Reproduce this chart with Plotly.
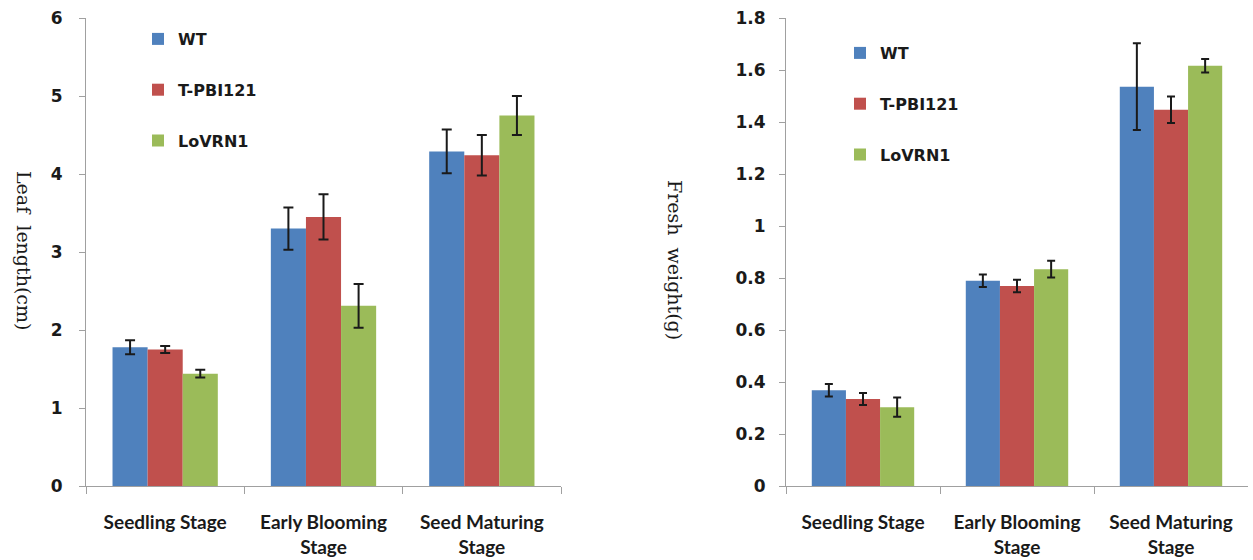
import plotly.graph_objects as go

categories = ["Seedling Stage", "Early Blooming<br>Stage", "Seed Maturing<br>Stage"]
series_names = ["WT", "T-PBI121", "LoVRN1"]
colors = ["#4F81BD", "#C0504D", "#9BBB59"]

# Leaf length (cm)
leaf_wt = [1.78, 3.30, 4.29]
leaf_wt_err = [0.09, 0.27, 0.28]
leaf_tp = [1.75, 3.45, 4.24]
leaf_tp_err = [0.045, 0.29, 0.26]
leaf_lo = [1.44, 2.31, 4.75]
leaf_lo_err = [0.05, 0.28, 0.25]

# Fresh weight (g)
fw_wt = [0.368, 0.789, 1.536]
fw_wt_err = [0.024, 0.024, 0.167]
fw_tp = [0.335, 0.769, 1.447]
fw_tp_err = [0.023, 0.024, 0.051]
fw_lo = [0.303, 0.834, 1.616]
fw_lo_err = [0.037, 0.032, 0.026]

leaf_vals = [leaf_wt, leaf_tp, leaf_lo]
leaf_errs = [leaf_wt_err, leaf_tp_err, leaf_lo_err]
fw_vals = [fw_wt, fw_tp, fw_lo]
fw_errs = [fw_wt_err, fw_tp_err, fw_lo_err]

W, H = 1253, 560
TXT = "#1a1a1a"
AX = "#a0a0a0"

fig = go.Figure()
for i, name in enumerate(series_names):
    fig.add_trace(go.Bar(
        x=categories, y=leaf_vals[i], name=name, marker=dict(color=colors[i], line=dict(width=0)),
        error_y=dict(type="data", array=leaf_errs[i], color=TXT, thickness=2, width=5),
        xaxis="x", yaxis="y", legend="legend", legendgroup="L" + name,
    ))
for i, name in enumerate(series_names):
    fig.add_trace(go.Bar(
        x=categories, y=fw_vals[i], name=name, marker=dict(color=colors[i], line=dict(width=0)),
        error_y=dict(type="data", array=fw_errs[i], color=TXT, thickness=2, width=4),
        xaxis="x2", yaxis="y2", legend="legend2", legendgroup="R" + name,
    ))

tickfont_y = dict(family="DejaVu Sans", size=17, color=TXT, weight="bold")
tickfont_x = dict(family="Lato", size=19, color=TXT, weight="bold")

def xax(domain, anchor):
    return dict(domain=domain, anchor=anchor, type="category", showline=True, linecolor=AX, linewidth=1,
                ticks="outside", tickson="boundaries", ticklen=7, tickcolor=AX, tickwidth=1,
                tickfont=tickfont_x, showgrid=False, zeroline=False, automargin=False,
                ticklabelstandoff=19)

def yax(domain, anchor, rng, dtick, standoff):
    return dict(domain=domain, anchor=anchor, range=rng, dtick=dtick, showline=True, linecolor=AX, linewidth=1,
                ticks="outside", ticklen=6, tickcolor=AX, tickwidth=1, tickfont=tickfont_y,
                showgrid=False, zeroline=False, automargin=False, ticklabelstandoff=standoff)

ydom = [(H - 486) / H, (H - 18) / H]
legfont = dict(family="DejaVu Sans", size=16, color=TXT, weight="bold")
titlefont = dict(family="DejaVu Serif", size=19, color=TXT)

fig.update_layout(
    width=W, height=H, template="none",
    paper_bgcolor="white", plot_bgcolor="white",
    margin=dict(l=0, r=0, t=0, b=0),
    barmode="group", bargap=0.335, bargroupgap=0,
    showlegend=True,
    xaxis=xax([86 / W, 561 / W], "y"),
    yaxis=yax(ydom, "x", [0, 6], 1, 13),
    xaxis2=xax([786 / W, 1248 / W], "y2"),
    yaxis2=yax(ydom, "x2", [0, 1.8], 0.2, 10),
    legend=dict(x=138 / W, y=(H - 22) / H, xanchor="left", yanchor="top", font=legfont,
                tracegroupgap=27, bgcolor="rgba(0,0,0,0)", traceorder="grouped"),
    legend2=dict(x=840 / W, y=(H - 36) / H, xanchor="left", yanchor="top", font=legfont,
                 tracegroupgap=27, bgcolor="rgba(0,0,0,0)", traceorder="grouped"),
    annotations=[
        dict(text="Leaf  length(cm)", x=24 / W, y=(H - 250) / H, xref="paper", yref="paper",
             xanchor="center", yanchor="middle",
             textangle=90, showarrow=False, font=titlefont),
        dict(text="Fresh  weight(g)", x=675 / W, y=(H - 260) / H, xref="paper", yref="paper",
             xanchor="center", yanchor="middle",
             textangle=90, showarrow=False, font=titlefont),
    ],
)

fig.write_html("out.html")
